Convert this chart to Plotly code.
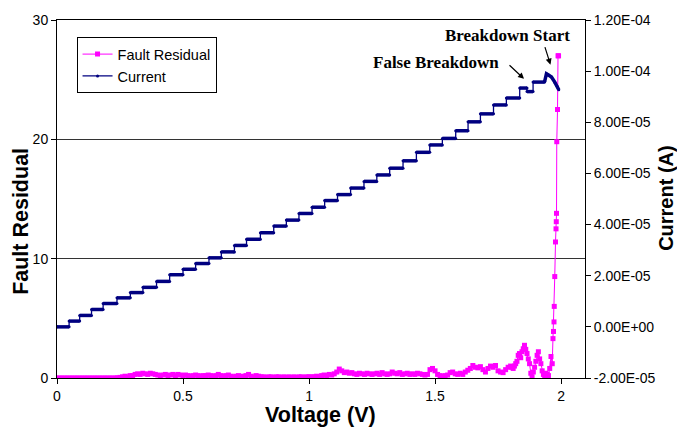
import plotly.graph_objects as go

# ---------------- data ----------------
# Current (A): staircase levels, step start voltages
step_v = [0.000, 0.048, 0.090, 0.137, 0.183, 0.238, 0.291, 0.341, 0.395, 0.447,
          0.500, 0.550, 0.603, 0.652, 0.704, 0.752, 0.807, 0.860, 0.910, 0.960,
          1.012, 1.062, 1.113, 1.165, 1.218, 1.269, 1.320, 1.373, 1.426, 1.479,
          1.529, 1.582, 1.631, 1.680, 1.732, 1.783, 1.836, 1.865, 1.889]
step_i = [0.00e-5, 0.225e-5, 0.447e-5, 0.680e-5, 0.913e-5, 1.134e-5, 1.340e-5, 1.545e-5, 1.778e-5, 2.039e-5,
          2.252e-5, 2.477e-5, 2.699e-5, 2.932e-5, 3.184e-5, 3.425e-5, 3.681e-5, 3.941e-5, 4.174e-5, 4.434e-5,
          4.679e-5, 4.939e-5, 5.172e-5, 5.428e-5, 5.689e-5, 5.941e-5, 6.205e-5, 6.493e-5, 6.826e-5, 7.114e-5,
          7.370e-5, 7.669e-5, 8.018e-5, 8.329e-5, 8.678e-5, 8.950e-5, 9.339e-5, 9.20e-5, 9.572e-5]
# tail after the last step (peak and decline)
tail_v = [1.935, 1.942, 1.950, 1.962, 1.975, 1.985, 1.991]
tail_i = [9.60e-5, 9.90e-5, 9.85e-5, 9.77e-5, 9.57e-5, 9.40e-5, 9.27e-5]

# Fault residual (0.00 .. 1.80 V, 0.01 V apart)
res_v = [round(0.01 * k, 2) for k in range(0, 181)]
res_y = [
    0, 0, 0, 0, 0, 0, 0, 0, 0, 0,
    0, 0, 0, 0, 0, 0, 0, 0, 0, 0,
    0, 0, 0, 0, 0.02, 0.05,
    0.1, 0.15, 0.1, 0.2, 0.2,
    0.3, 0.35, 0.3, 0.4, 0.35, 0.3, 0.4, 0.35, 0.3, 0.25,
    0.2, 0.25, 0.3, 0.2, 0.25, 0.3, 0.2, 0.3, 0.25, 0.2,
    0.25, 0.2, 0.15, 0.2, 0.25, 0.2, 0.15, 0.2, 0.2, 0.25,
    0.2, 0.15, 0.2, 0.3, 0.2, 0.15, 0.2, 0.25, 0.15, 0.1,
    0.15, 0.2, 0.1, 0.15, 0.2, 0.3, 0.15, 0.1, 0.2, 0.15,
    0.1, 0.1, 0.05, 0.1, 0.1, 0.05, 0.1, 0.1, 0.05, 0.1,
    0.05, 0.1, 0.05, 0.1, 0.05, 0.1, 0.1, 0.05, 0.1, 0.1,
    0.1, 0.1, 0.15, 0.1, 0.2, 0.25, 0.2, 0.3, 0.25, 0.35,
    0.5, 0.75, 0.6, 0.45, 0.5, 0.4, 0.45, 0.35, 0.3, 0.4,
    0.35, 0.3, 0.4, 0.35, 0.3, 0.35, 0.4, 0.3, 0.45, 0.35,
    0.3, 0.35, 0.5, 0.4, 0.35, 0.45, 0.3, 0.35, 0.4, 0.3,
    0.35, 0.3, 0.4, 0.35, 0.3, 0.25, 0.3, 0.7, 0.8, 0.6,
    0.3, 0.2, 0.15, 0.2, 0.25, 0.45, 0.5, 0.35, 0.3, 0.4,
    0.3, 0.5, 0.65, 0.8, 1.05, 0.9, 0.85, 0.95, 0.7, 0.5,
    0.8, 1.0, 0.9, 1.05, 0.6, 0.5, 0.45, 0.7, 0.9, 1.0,
]
# Fault residual near breakdown (finer sampling)
res_v2 = [1.805, 1.81, 1.815, 1.82, 1.825, 1.83, 1.835, 1.84, 1.845, 1.85,
          1.855, 1.86, 1.865, 1.87, 1.875, 1.88, 1.885, 1.89, 1.895, 1.90,
          1.905, 1.91, 1.915, 1.92, 1.925, 1.93, 1.935, 1.94, 1.945, 1.95,
          1.955, 1.96, 1.965,
          1.968, 1.970, 1.972, 1.973, 1.975, 1.978, 1.980, 1.981, 1.982, 1.983,
          1.986, 1.988, 1.990]
res_y2 = [0.9, 0.8, 1.0, 1.2, 1.4, 1.9, 2.05, 1.7, 2.2, 2.45,
          2.74, 2.4, 2.05, 1.6, 1.2, 0.4, 0.1, 0.5, 0.9, 1.4,
          1.9, 2.2, 1.6, 1.2, 0.6, 0.3, 0.2, 0.4, 0.3, 0.2,
          0.8, 1.8, 1.2,
          3.3, 3.9, 4.7, 6.0, 8.5, 11.4, 12.5, 13.1, 13.8, 19.8,
          22.5, 27.0, 27.0]

x_ticks = [0, 0.5, 1, 1.5, 2]
x_ticktext = ["0", "0.5", "1", "1.5", "2"]
y_ticks = [0, 10, 20, 30]
y2_ticks = [-2e-5, 0, 2e-5, 4e-5, 6e-5, 8e-5, 1e-4, 1.2e-4]
y2_ticktext = ["-2.00E-05", "0.00E+00", "2.00E-05", "4.00E-05",
               "6.00E-05", "8.00E-05", "1.00E-04", "1.20E-04"]

# ---------------- build traces ----------------
MAG = "#FF00FF"
NAVY = "#000080"
FONT = "Liberation Sans, Arial, sans-serif"
SERIF = "Liberation Serif, Times New Roman, serif"

ends = step_v[1:] + [tail_v[0]]
stair_x, stair_y = [], []
seg_x, seg_y = [], []
for v0, v1, lev in zip(step_v, ends, step_i):
    stair_x += [v0, v1]
    stair_y += [lev, lev]
    seg_x += [v0, v1, None]
    seg_y += [lev, lev, None]
stair_x += tail_v
stair_y += tail_i
seg_x += tail_v
seg_y += tail_i

fig = go.Figure()
fig.add_trace(go.Scatter(
    x=res_v + res_v2, y=res_y + res_y2, name="Fault Residual",
    mode="lines+markers", line=dict(color=MAG, width=1),
    marker=dict(symbol="square", size=5, color=MAG), yaxis="y"))
fig.add_trace(go.Scatter(
    x=stair_x, y=stair_y, name="Current", mode="lines+markers",
    line=dict(color=NAVY, width=1.3), marker=dict(size=3, color=NAVY),
    yaxis="y2"))
fig.add_trace(go.Scatter(
    x=seg_x, y=seg_y, mode="lines", showlegend=False,
    line=dict(color=NAVY, width=3.5), yaxis="y2", hoverinfo="skip"))

# ---------------- layout ----------------
fig.update_layout(
    width=677, height=428,
    margin=dict(l=57, r=92, t=17, b=50, pad=0),
    paper_bgcolor="white", plot_bgcolor="white",
    font=dict(family=FONT, size=14, color="black"),
    showlegend=True,
    legend=dict(x=0.037, y=0.952, xanchor="left", yanchor="top",
                bgcolor="white", bordercolor="black", borderwidth=1,
                font=dict(family=FONT, size=14.5, color="black"),
                tracegroupgap=0),
    xaxis=dict(range=[0, 2.095], tickvals=x_ticks, ticktext=x_ticktext,
               showline=True, linecolor="black", linewidth=1, mirror=True,
               ticks="outside", ticklen=5, tickcolor="black",
               showgrid=False, zeroline=False,
               tickfont=dict(family=FONT, size=14, color="black")),
    yaxis=dict(range=[0, 30], tickvals=y_ticks,
               showline=True, linecolor="black", linewidth=1,
               ticks="outside", ticklen=5, tickcolor="black",
               showgrid=True, gridcolor="#333333", gridwidth=1,
               zeroline=False,
               tickfont=dict(family=FONT, size=14, color="black")),
    yaxis2=dict(range=[-2e-5, 1.2e-4], overlaying="y", side="right",
                tickvals=y2_ticks, ticktext=y2_ticktext,
                showline=True, linecolor="black", linewidth=1,
                ticks="outside", ticklen=5, tickcolor="black",
                showgrid=False, zeroline=False,
                tickfont=dict(family=FONT, size=14, color="black")),
)

annos = [
    dict(text="<b>Fault Residual</b>", xref="paper", yref="paper",
         x=-0.0669, y=0.438, xanchor="center", yanchor="middle",
         textangle=-90, showarrow=False,
         font=dict(family=FONT, size=21.5, color="black")),
    dict(text="<b>Current (A)</b>", xref="paper", yref="paper",
         x=1.1545, y=0.502, xanchor="center", yanchor="middle",
         textangle=-90, showarrow=False,
         font=dict(family=FONT, size=20, color="black")),
    dict(text="<b>Voltage (V)</b>", xref="paper", yref="paper",
         x=0.4997, y=-0.1026, xanchor="center", yanchor="middle",
         showarrow=False,
         font=dict(family=FONT, size=21.5, color="black")),
    dict(text="<b>Breakdown Start</b>", xref="x", yref="y",
         x=1.788, y=28.74, xanchor="center", yanchor="middle",
         showarrow=False,
         font=dict(family=SERIF, size=17, color="black")),
    dict(text="<b>False Breakdown</b>", xref="x", yref="y",
         x=1.504, y=26.41, xanchor="center", yanchor="middle",
         showarrow=False,
         font=dict(family=SERIF, size=17, color="black")),
    dict(text="", xref="x", yref="y", x=1.958, y=26.26, ax=-6, ay=-19,
         showarrow=True, arrowhead=2, arrowsize=1, arrowwidth=1.2,
         arrowcolor="black"),
    dict(text="", xref="x", yref="y", x=1.853, y=25.07, ax=-16, ay=-15,
         showarrow=True, arrowhead=2, arrowsize=1, arrowwidth=1.2,
         arrowcolor="black"),
]
fig.update_layout(annotations=annos)

fig.write_html("out.html")
